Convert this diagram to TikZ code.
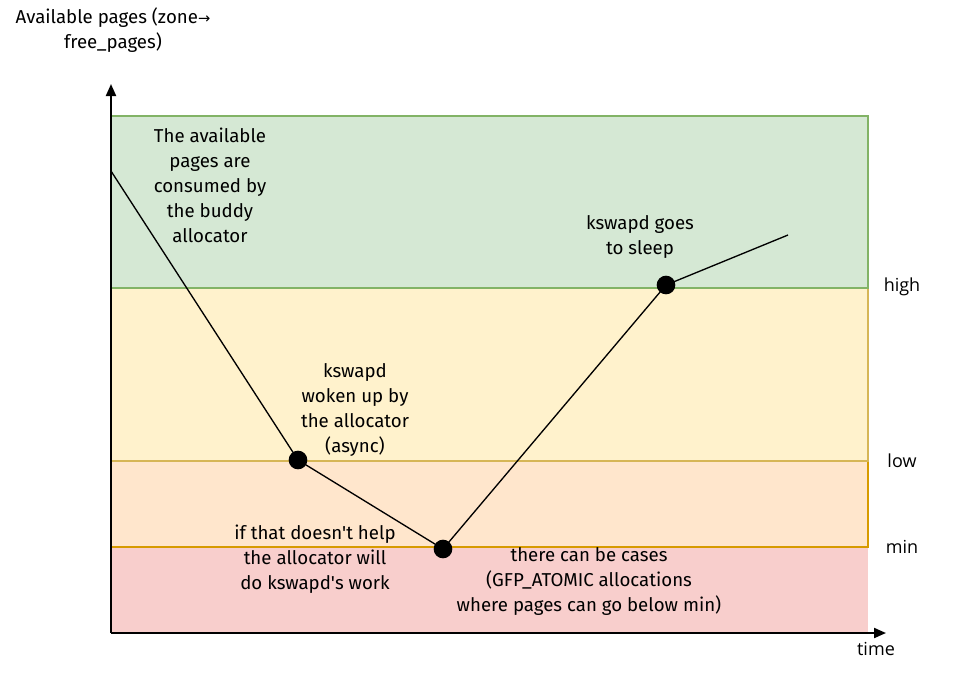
\documentclass[tikz,border=0pt]{standalone}
\usepackage{fontspec}
\setmainfont{Fira Sans}
\newfontfamily\levelfont{Open Sans}
\newfontfamily\arrowfont{DejaVu Sans}
\usepackage{xcolor}
\usepackage{tikz}
\usetikzlibrary{arrows.meta, positioning}

\definecolor{greenfill}{HTML}{D5E8D4}
\definecolor{greenline}{HTML}{82B366}
\definecolor{yellowfill}{HTML}{FFF2CC}
\definecolor{yellowline}{HTML}{D6B656}
\definecolor{orangefill}{HTML}{FFE6CC}
\definecolor{orangeline}{HTML}{D79B00}
\definecolor{redfill}{HTML}{F8CECC}

\begin{document}
\begin{tikzpicture}[
    x=0.75pt, y=-0.75pt,
    font=\fontsize{14}{18.75}\selectfont,
    band/.style={line width=1.5pt},
    note/.style={align=center, inner sep=0pt},
    level/.style={font=\levelfont\fontsize{13.5}{16}\selectfont, inner sep=0pt},
    dot/.style={circle, fill=black, minimum size=14pt, inner sep=0pt},
    axis/.style={-{Triangle[length=9pt, width=7.5pt]}, line width=1.5pt},
    curve/.style={line width=1pt}
]
\useasboundingbox (0,0) rectangle (959,679);

% Bands
\fill[redfill] (111,547) rectangle (868,633);
\draw[band, draw=orangeline, fill=orangefill] (111,461) rectangle (868,547);
\draw[band, draw=yellowline, fill=yellowfill] (111,288) rectangle (868,461);
\draw[band, draw=greenline, fill=greenfill] (111,116) rectangle (868,288);

% Axes
\coordinate (origin) at (111,633);
\coordinate (ytip) at (111,84);
\coordinate (xtip) at (886,633);
\draw[axis] (origin) -- (ytip);
\draw[axis] (origin) -- (xtip);

% Free pages over time
\coordinate (start) at (111,171);
\coordinate (finish) at (788,235);
\draw[curve] (start) -- (298,460) -- (443,549) -- (666,285) -- (finish);
\node[dot] (woken) at (298,460) {};
\node[dot] (direct) at (443,549) {};
\node[dot] (sleep) at (666,285) {};

% Labels
\node[note] (consumed) at (210,185) {The available\\pages are\\consumed by\\the buddy\\allocator};
\node[note] (wakeup) at (355,410) {kswapd\\woken up by\\the allocator\\(async)};
\node[note] (gosleep) at (640,237) {kswapd goes\\to sleep};
\node[note] (reclaim) at (315,559) {if that doesn\textquotesingle t help\\the allocator will\\do kswapd\textquotesingle s work};
\node[note] (atomic) at (589,581) {there can be cases\\(GFP\_ATOMIC allocations\\where pages can go below min)};
\node[note] (ylabel) at (113,30) {Available pages (zone{\arrowfont\fontsize{11}{12}\selectfont →}\\free\_pages)};

% Levels
\node[level] (high) at (902,287) {high};
\node[level] (low) at (902,461) {low};
\node[level] (min) at (902,547) {min};
\node[level] (time) at (876,649) {time};

\end{tikzpicture}
\end{document}
